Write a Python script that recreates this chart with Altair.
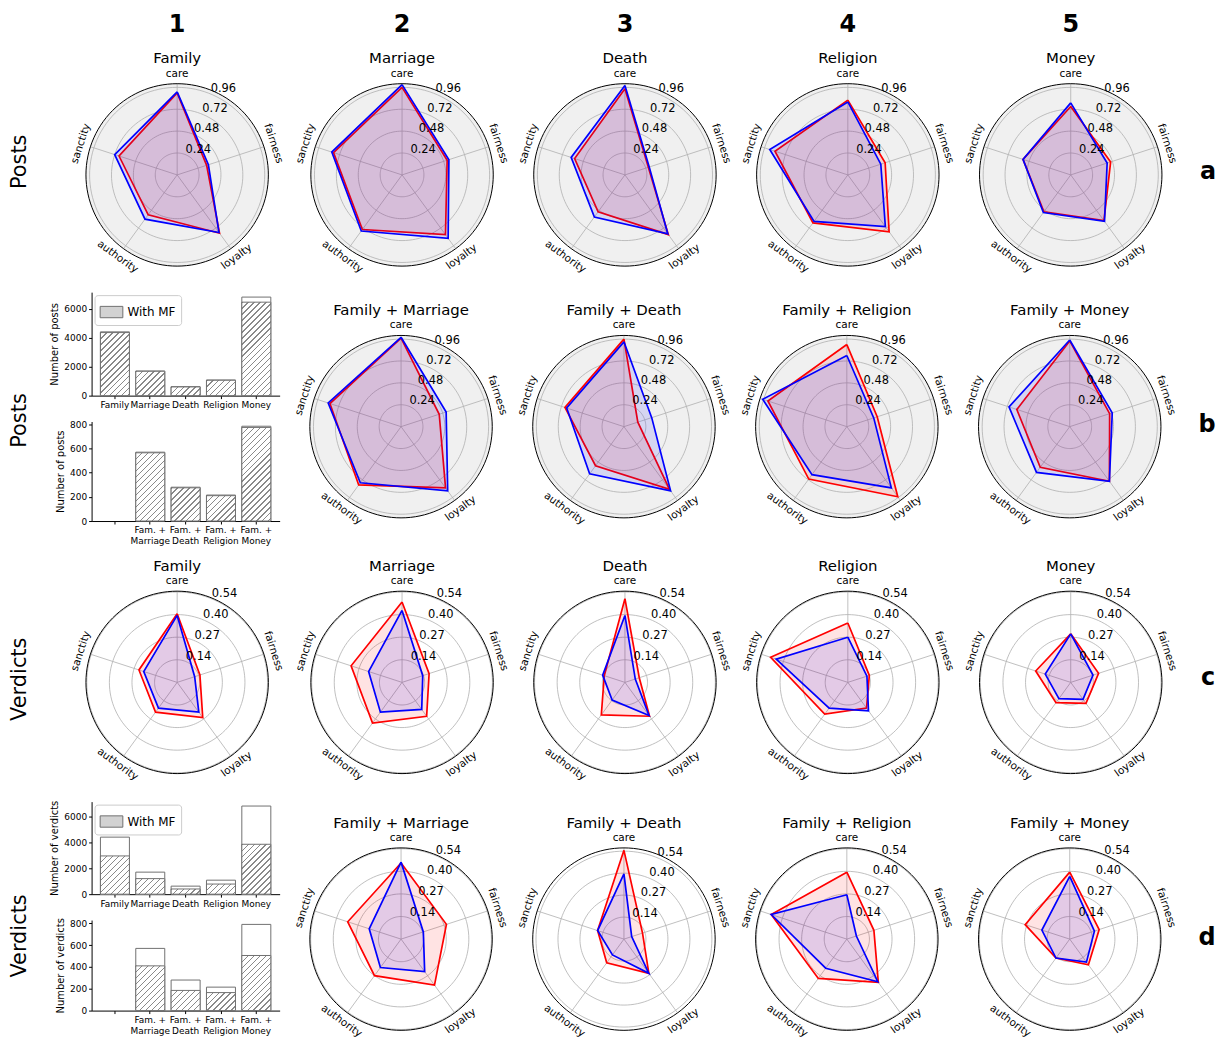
import altair as alt
import pandas as pd

FONT = "DejaVu Sans"

# ---------------- labels ----------------
AXES = ["care", "fairness", "loyalty", "authority", "sanctity"]
AXIS_INDEX = [0, 1, 2, 3, 4]
COL_NUMBERS = ["1", "2", "3", "4", "5"]
SINGLE_TOPICS = ["Family", "Marriage", "Death", "Religion", "Money"]
PAIR_TOPICS = ["Family + Marriage", "Family + Death", "Family + Religion", "Family + Money"]
ROW_LABELS = ["Posts", "Posts", "Verdicts", "Verdicts"]
ROW_LETTERS = ["a", "b", "c", "d"]

POSTS_TICKS = [0.24, 0.48, 0.72, 0.96]
POSTS_TICK_LABELS = ["0.24", "0.48", "0.72", "0.96"]
POSTS_RMAX = [1.0, 1.0, 1.0, 1.0, 1.0]
VERDICT_TICKS = [0.135, 0.27, 0.405, 0.54]
VERDICT_TICK_LABELS = ["0.14", "0.27", "0.40", "0.54"]
VERDICT_SINGLE_RMAX = [0.545, 0.545, 0.545, 0.545, 0.545]
VERDICT_PAIR_RMAX = [0.545, 0.56, 0.545, 0.545]

# ---------------- radar values: [care, fairness, loyalty, authority, sanctity] ----------------
# row a : posts, single topics
posts_single_red = [
    [0.90, 0.34, 0.79, 0.54, 0.67],
    [0.96, 0.52, 0.81, 0.74, 0.79],
    [0.945, 0.27, 0.81, 0.50, 0.58],
    [0.82, 0.43, 0.77, 0.65, 0.84],
    [0.75, 0.46, 0.62, 0.50, 0.55],
]
posts_single_blue = [
    [0.91, 0.36, 0.78, 0.60, 0.72],
    [0.99, 0.54, 0.86, 0.76, 0.81],
    [0.98, 0.28, 0.80, 0.57, 0.62],
    [0.80, 0.38, 0.70, 0.63, 0.90],
    [0.79, 0.42, 0.63, 0.51, 0.55],
]
# row b : posts, family + topic
posts_pair_red = [
    [0.97, 0.44, 0.83, 0.79, 0.82],
    [0.96, 0.16, 0.85, 0.53, 0.68],
    [0.90, 0.35, 0.95, 0.71, 0.91],
    [0.94, 0.46, 0.74, 0.55, 0.61],
]
posts_pair_blue = [
    [0.98, 0.52, 0.87, 0.76, 0.84],
    [0.93, 0.32, 0.87, 0.64, 0.66],
    [0.78, 0.31, 0.83, 0.65, 0.97],
    [0.95, 0.49, 0.74, 0.62, 0.70],
]
# row c : verdicts, single topics
verdict_single_red = [
    [0.41, 0.143, 0.26, 0.22, 0.24],
    [0.48, 0.17, 0.25, 0.30, 0.32],
    [0.50, 0.09, 0.25, 0.24, 0.13],
    [0.355, 0.135, 0.19, 0.235, 0.485],
    [0.29, 0.175, 0.155, 0.15, 0.22],
]
verdict_single_blue = [
    [0.40, 0.11, 0.22, 0.19, 0.21],
    [0.43, 0.13, 0.20, 0.22, 0.21],
    [0.40, 0.065, 0.245, 0.13, 0.14],
    [0.27, 0.12, 0.21, 0.19, 0.45],
    [0.29, 0.14, 0.125, 0.12, 0.16],
]
# row d : verdicts, family + topic
verdict_pair_red = [
    [0.455, 0.285, 0.34, 0.27, 0.335],
    [0.545, 0.12, 0.26, 0.18, 0.17],
    [0.40, 0.17, 0.32, 0.29, 0.475],
    [0.40, 0.185, 0.19, 0.14, 0.28],
]
verdict_pair_blue = [
    [0.46, 0.14, 0.24, 0.21, 0.20],
    [0.40, 0.05, 0.26, 0.12, 0.17],
    [0.265, 0.06, 0.315, 0.215, 0.475],
    [0.375, 0.155, 0.17, 0.14, 0.175],
]

# ---------------- bar values ----------------
BAR_SINGLE = ["Family", "Marriage", "Death", "Religion", "Money"]
BAR_PAIR_DOMAIN = [" ", "Fam. +\nMarriage", "Fam. +\nDeath", "Fam. +\nReligion", "Fam. +\nMoney"]
BAR_PAIR = ["Fam. +\nMarriage", "Fam. +\nDeath", "Fam. +\nReligion", "Fam. +\nMoney"]
posts_total = [4400, 1700, 620, 1080, 6800]
posts_mf = [4350, 1680, 600, 1060, 6450]
posts_pair_total = [570, 280, 215, 785]
posts_pair_mf = [565, 275, 210, 775]
verdicts_total = [4400, 1700, 620, 1080, 6800]
verdicts_mf = [2950, 1200, 400, 780, 3850]
verdicts_pair_total = [570, 280, 215, 790]
verdicts_pair_mf = [410, 185, 165, 505]

# ---------------- style / layout ----------------
RADAR_W = 220
PX = RADAR_W / 2.4          # pixels per rmax
BOTTOM = 1.1                # room below the centre, in rmax units
TITLE_POS = 1.276           # panel title height above centre, in rmax units
HEADER_POS = 1.647          # column number height above centre, in rmax units
ROW_H = [266, 236, 225, 239]  # radar plot heights per row (px)
GRID = "#b0b0b0"
HATCH_LINE = "#8a8a8a"
LEGEND_FILL = "#d2d2d2"
EDGE = "#707070"
BAR_W = 189
PAD_IN = 0.18
PAD_OUT = 0.25


def indep(c):
    return c.resolve_scale(fill="independent").resolve_legend(fill="independent")


def hatch_gradient(W, H, period=6.0, lw=1.3):
    """Diagonal '///' hatch as a striped linear gradient for a box of W x H px."""
    W = max(W, 1.0)
    H = max(H, 1.0)
    S = W + H
    k = S / (W * W + H * H)
    n = S / period
    a = lw / period
    stops = []
    j = 0
    while j < n:
        o0 = min(j / n, 1.0)
        o1 = min((j + a) / n, 1.0)
        o2 = min((j + 1) / n, 1.0)
        stops += [{"offset": o0, "color": HATCH_LINE}, {"offset": o1, "color": HATCH_LINE},
                  {"offset": o1, "color": "white"}, {"offset": o2, "color": "white"}]
        j += 1
    return {"gradient": "linear", "x1": 0, "y1": 0, "x2": k * W, "y2": k * H, "stops": stops}


def circle_points(chart):
    return (chart.transform_calculate(deg="sequence(0, 361, 3)")
            .transform_flatten(["deg"])
            .transform_calculate(cx="datum.r*sin(datum.deg*PI/180)",
                                 cy="datum.r*cos(datum.deg*PI/180)"))


def radar(red, blue, rmax, ticks, tick_labels, bg, title, height, header=None):
    top = height / PX - BOTTOM
    sx = alt.Scale(domain=[-1.2 * rmax, 1.2 * rmax], nice=False, zero=False)
    sy = alt.Scale(domain=[-BOTTOM * rmax, top * rmax], nice=False, zero=False)

    def XY(xf, yf):
        return dict(x=alt.X(xf, type="quantitative", scale=sx, axis=None),
                    y=alt.Y(yf, type="quantitative", scale=sy, axis=None))

    layers = []
    outer_df = pd.DataFrame({"r": [rmax]})
    if bg:
        layers.append(circle_points(alt.Chart(outer_df)).mark_line(
            fill=bg, stroke=bg, strokeWidth=0).encode(**XY("cx", "cy"), order="deg:Q"))
    layers.append(circle_points(alt.Chart(pd.DataFrame({"r": ticks}))).mark_line(
        stroke=GRID, strokeWidth=0.8).encode(**XY("cx", "cy"), detail="r:Q", order="deg:Q"))
    ax_df = pd.DataFrame({"axis": AXES, "i": AXIS_INDEX})
    layers.append(alt.Chart(ax_df).transform_calculate(
        a="datum.i*2*PI/5", x0="0", y0="0",
        x1=f"{rmax}*sin(datum.a)", y1=f"{rmax}*cos(datum.a)"
    ).mark_rule(stroke=GRID, strokeWidth=0.8).encode(**XY("x0", "y0"), x2="x1:Q", y2="y1:Q"))

    rows = []
    for name, vals in (("red", red), ("blue", blue)):
        for k in range(6):
            rows.append({"s": name, "i": k, "v": vals[k % 5]})
    poly = alt.Chart(pd.DataFrame(rows)).transform_calculate(
        a="datum.i*2*PI/5", px="datum.v*sin(datum.a)", py="datum.v*cos(datum.a)")
    for name, col in (("red", "#ff0000"), ("blue", "#0000ff")):
        layers.append(poly.transform_filter(f"datum.s == '{name}'").mark_line(
            stroke=col, strokeWidth=1.7, fill=col, fillOpacity=0.11
        ).encode(**XY("px", "py"), order="i:Q"))

    layers.append(alt.Chart(ax_df).transform_calculate(
        a="datum.i*2*PI/5",
        lx=f"{rmax * 1.11}*sin(datum.a)", ly=f"{rmax * 1.11}*cos(datum.a)",
        ang="(360 - (((((-72*datum.i) % 180) + 270) % 180) - 90)) % 360"
    ).mark_text(fontSize=10.5, align="center", baseline="middle", color="black").encode(
        **XY("lx", "ly"), text="axis:N", angle=alt.Angle("ang:Q", scale=None)))

    layers.append(alt.Chart(pd.DataFrame({"r": ticks, "lab": tick_labels})).transform_calculate(
        tx="datum.r*sin(PI/8)", ty="datum.r*cos(PI/8)"
    ).mark_text(fontSize=11.5, align="left", baseline="bottom", color="black").encode(
        **XY("tx", "ty"), text="lab:N"))

    layers.append(circle_points(alt.Chart(outer_df)).mark_line(
        stroke="black", strokeWidth=1).encode(**XY("cx", "cy"), order="deg:Q"))

    # panel title (and column number) as text inside the panel
    layers.append(alt.Chart(pd.DataFrame({"t": [title]})).transform_calculate(
        x0="0", y0=f"{TITLE_POS * rmax}"
    ).mark_text(fontSize=15, align="center", baseline="middle", color="black").encode(
        **XY("x0", "y0"), text="t:N"))
    if header:
        layers.append(alt.Chart(pd.DataFrame({"t": [header]})).transform_calculate(
            x0="0", y0=f"{HEADER_POS * rmax}"
        ).mark_text(fontSize=24, fontWeight="bold", align="center", baseline="middle",
                    color="black").encode(**XY("x0", "y0"), text="t:N"))
    return alt.layer(*layers).properties(width=RADAR_W, height=height)


def bars(cats, domain, total, mf, ytitle, ymax, yticks, legend, multiline, h):
    idx = [domain.index(c) for c in cats]
    df = pd.DataFrame({"cat": cats, "k": idx, "total": total, "mf": mf,
                       "lab": ["With MF"] * len(cats)})
    step = BAR_W / (len(domain) - PAD_IN + 2 * PAD_OUT)
    bw = step * (1 - PAD_IN)
    conds = [{"test": f"datum.k == {k}", "value": hatch_gradient(bw, v / ymax * h)}
             for k, v in zip(idx, mf)]

    axis_kw = dict(title=None, labelAngle=0, labelFontSize=9, tickSize=3, labelPadding=2,
                   domainColor="black", tickColor="black", labelColor="black")
    if multiline:
        axis_kw["labelExpr"] = "split(datum.label, '\\n')"
    sc = alt.Scale(domain=domain, paddingInner=PAD_IN, paddingOuter=PAD_OUT)
    xenc = alt.X("cat:N", sort=domain, scale=sc, axis=alt.Axis(**axis_kw))
    yscale = alt.Scale(domain=[0, ymax], nice=False)
    yaxis = alt.Axis(title=ytitle, values=yticks, format="d", grid=False, labelFontSize=9,
                     labelOverlap=False, titleFontSize=10, titleFontWeight="normal", tickSize=3,
                     titlePadding=4, domainColor="black", tickColor="black", labelColor="black",
                     titleColor="black")
    tot = alt.Chart(df).mark_bar(fill="white", stroke=EDGE, strokeWidth=1).encode(
        x=xenc, y=alt.Y("total:Q", scale=yscale, axis=yaxis))
    if legend:
        fill = {"field": "lab", "type": "nominal", "scale": {"range": [LEGEND_FILL]},
                "legend": {"title": None, "orient": "top-left", "offset": 3, "labelFontSize": 12,
                           "labelColor": "black", "symbolType": "M-1,-0.5H1V0.5H-1Z",
                           "symbolSize": 520, "symbolStrokeColor": EDGE, "symbolStrokeWidth": 1,
                           "strokeColor": "#cccccc", "fillColor": "white", "padding": 5,
                           "cornerRadius": 3},
                "condition": conds}
    else:
        fill = {"value": LEGEND_FILL, "condition": conds}
    mfb = alt.Chart(df).mark_bar(stroke=EDGE, strokeWidth=1).encode(
        x=xenc, y=alt.Y("mf:Q", scale=yscale, axis=yaxis), fill=fill)
    return indep(alt.layer(tot, mfb)).properties(width=BAR_W, height=h)


def row_label(text, ypos, height):
    return alt.Chart(pd.DataFrame({"t": [text]})).mark_text(
        angle=270, fontSize=21, color="black", baseline="middle", align="center").encode(
        text="t:N", x=alt.value(10), y=alt.value(ypos)).properties(width=20, height=height)


def letter(text, ypos, height):
    return alt.Chart(pd.DataFrame({"t": [text]})).mark_text(
        fontSize=24, fontWeight="bold", color="black", baseline="middle", align="center").encode(
        text="t:N", x=alt.value(24), y=alt.value(ypos)).properties(width=30, height=height)


def assemble(idx, first, radars, s1, s2, label_y, letter_y):
    h = ROW_H[idx]
    right = alt.hconcat(*radars, letter(ROW_LETTERS[idx], letter_y, h), spacing=4)
    inner = indep(alt.hconcat(first, right, spacing=s2))
    return indep(alt.hconcat(row_label(ROW_LABELS[idx], label_y, h), inner, spacing=s1))


# row a
row_a = [radar(posts_single_red[k], posts_single_blue[k], POSTS_RMAX[k], POSTS_TICKS,
               POSTS_TICK_LABELS, "#f0f0f0", SINGLE_TOPICS[k], ROW_H[0], COL_NUMBERS[k])
         for k in range(5)]
# row b
row_b = [radar(posts_pair_red[k], posts_pair_blue[k], 1.0, POSTS_TICKS,
               POSTS_TICK_LABELS, "#f0f0f0", PAIR_TOPICS[k], ROW_H[1]) for k in range(4)]
bars_b = indep(alt.vconcat(
    bars(BAR_SINGLE, BAR_SINGLE, posts_total, posts_mf, "Number of posts", 7140,
         [0, 2000, 4000, 6000], True, False, 104),
    bars(BAR_PAIR, BAR_PAIR_DOMAIN, posts_pair_total, posts_pair_mf, "Number of posts", 824,
         [0, 200, 400, 600, 800], False, True, 100),
    spacing=10))
# row c
row_c = [radar(verdict_single_red[k], verdict_single_blue[k], VERDICT_SINGLE_RMAX[k], VERDICT_TICKS,
               VERDICT_TICK_LABELS, None, SINGLE_TOPICS[k], ROW_H[2]) for k in range(5)]
# row d
row_d = [radar(verdict_pair_red[k], verdict_pair_blue[k], VERDICT_PAIR_RMAX[k], VERDICT_TICKS,
               VERDICT_TICK_LABELS, None, PAIR_TOPICS[k], ROW_H[3]) for k in range(4)]
bars_d = indep(alt.vconcat(
    bars(BAR_SINGLE, BAR_SINGLE, verdicts_total, verdicts_mf, "Number of verdicts", 7140,
         [0, 2000, 4000, 6000], True, False, 93),
    bars(BAR_PAIR, BAR_PAIR_DOMAIN, verdicts_pair_total, verdicts_pair_mf, "Number of verdicts", 830,
         [0, 200, 400, 600, 800], False, True, 91),
    spacing=9))

top = indep(alt.vconcat(
    assemble(0, row_a[0], row_a[1:], 38, 6, 152, 162),
    assemble(1, bars_b, row_b, 20, 12, 129, 134),
    spacing=17))
bottom = indep(alt.vconcat(
    assemble(2, row_c[0], row_c[1:], 38, 6, 121, 120),
    assemble(3, bars_d, row_d, 20, 12, 135, 137),
    spacing=17))

chart = indep(alt.vconcat(top, bottom, spacing=13)).configure(
    font=FONT, padding=0).configure_view(strokeOpacity=0, strokeWidth=0)

chart.save("out.html", embed_options={"renderer": "svg", "actions": False})
